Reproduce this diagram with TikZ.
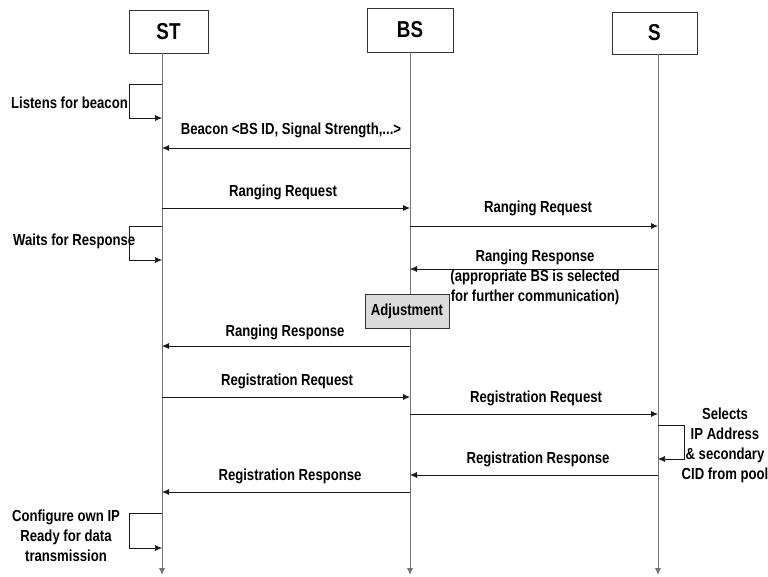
\documentclass[tikz,border=0pt]{standalone}
\usepackage{fontspec}
\newfontfamily\diafont{Liberation Sans}[FakeStretch=0.82]
\usetikzlibrary{arrows.meta}
\begin{document}
\begin{tikzpicture}[x=1pt,y=-1pt,
  head/.style={draw=black!80, line width=0.8pt, fill=white, inner sep=0pt,
    font=\diafont\bfseries\fontsize{23}{26}\selectfont},
  life/.style={draw=black!55, line width=0.8pt, -{Latex[length=7pt,width=6pt]}},
  msg/.style={draw=black!90, line width=0.8pt, -{Latex[length=7pt,width=6pt]}},
  loopline/.style={draw=black!90, line width=0.7pt, -{Latex[length=7pt,width=6pt]}},
  msgtext/.style={inner sep=0pt, align=center, font=\diafont\bfseries\fontsize{16}{20}\selectfont},
  adjbox/.style={draw=black!80, line width=0.7pt, fill=black!14, inner sep=0pt,
    minimum width=84pt, minimum height=34pt, font=\diafont\bfseries\fontsize{16}{20}\selectfont}
]
\useasboundingbox (0,0) rectangle (768,576);

% participant heads
\node[head, minimum width=79pt, minimum height=43pt] (st) at (168.5,31.5) {ST};
\node[head, minimum width=86pt, minimum height=44pt] (bs) at (410,30) {BS};
\node[head, minimum width=85pt, minimum height=42pt] (s)  at (654.5,33) {S};

% lifeline ends
\coordinate (stT) at (162,53);  \coordinate (stE) at (162,575);
\coordinate (bsT) at (410,52);  \coordinate (bsE) at (410,575);
\coordinate (sT)  at (658,54);  \coordinate (sE)  at (658,575);

\draw[life] (stT) -- (stE);
\draw[life] (bsT) -- (bsE);
\draw[life] (sT)  -- (sE);

% message rows
\coordinate (rBeacon) at (0,148);
\coordinate (rReqA)   at (0,208);
\coordinate (rReqB)   at (0,226);
\coordinate (rRespA)  at (0,269);
\coordinate (rRespB)  at (0,346);
\coordinate (rRegA)   at (0,397);
\coordinate (rRegB)   at (0,414);
\coordinate (rRegRA)  at (0,475);
\coordinate (rRegRB)  at (0,492);

% self-loop rows
\coordinate (lListenA) at (0,84);  \coordinate (lListenB) at (0,118);
\coordinate (lWaitA)   at (0,226); \coordinate (lWaitB)   at (0,260);
\coordinate (lSelA)    at (0,425); \coordinate (lSelB)    at (0,459);
\coordinate (lCfgA)    at (0,513); \coordinate (lCfgB)    at (0,548);

% ST self loops
\draw[loopline] (stT |- lListenA) -- ++(-33,0) |- (stT |- lListenB);
\draw[loopline] (stT |- lWaitA) -- ++(-33,0) |- (stT |- lWaitB);
\draw[loopline] (stT |- lCfgA) -- ++(-33,0) |- (stT |- lCfgB);
% S self loop
\draw[loopline] (sT |- lSelA) -- ++(26,0) |- (sT |- lSelB);

\node[msgtext, anchor=east] (tListen) at (128,103) {Listens for beacon};
\node[msgtext, anchor=west] (tWait) at (13,241) {Waits for Response};
\node[msgtext] (tCfg) at (66,536) {Configure own IP\\Ready for data\\transmission};
\node[msgtext] (tSel) at (725,445) {Selects\\IP Address\\\& secondary\\CID from pool};

% messages
\draw[msg] (bsT |- rBeacon) -- (stT |- rBeacon);
\node[msgtext] (tBeacon) at (291,130) {Beacon <BS ID, Signal Strength,...>};

\draw[msg] (stT |- rReqA) -- (bsT |- rReqA);
\node[msgtext] (tReqA) at (283,192) {Ranging Request};

\draw[msg] (bsT |- rReqB) -- (sT |- rReqB);
\node[msgtext] (tReqB) at (538,208) {Ranging Request};

\draw[msg] (sT |- rRespA) -- (bsT |- rRespA);
\node[msgtext] (tRespA) at (535,277) {Ranging Response\\(appropriate BS is selected\\for further communication)};

\node[adjbox] (adj) at (407,311) {Adjustment};

\draw[msg] (bsT |- rRespB) -- (stT |- rRespB);
\node[msgtext] (tRespB) at (285,332) {Ranging Response};

\draw[msg] (stT |- rRegA) -- (bsT |- rRegA);
\node[msgtext] (tRegA) at (287,381) {Registration Request};

\draw[msg] (bsT |- rRegB) -- (sT |- rRegB);
\node[msgtext] (tRegB) at (536,398) {Registration Request};

\draw[msg] (sT |- rRegRA) -- (bsT |- rRegRA);
\node[msgtext] (tRegRA) at (538,459) {Registration Response};

\draw[msg] (bsT |- rRegRB) -- (stT |- rRegRB);
\node[msgtext] (tRegRB) at (290,476) {Registration Response};
\end{tikzpicture}
\end{document}
